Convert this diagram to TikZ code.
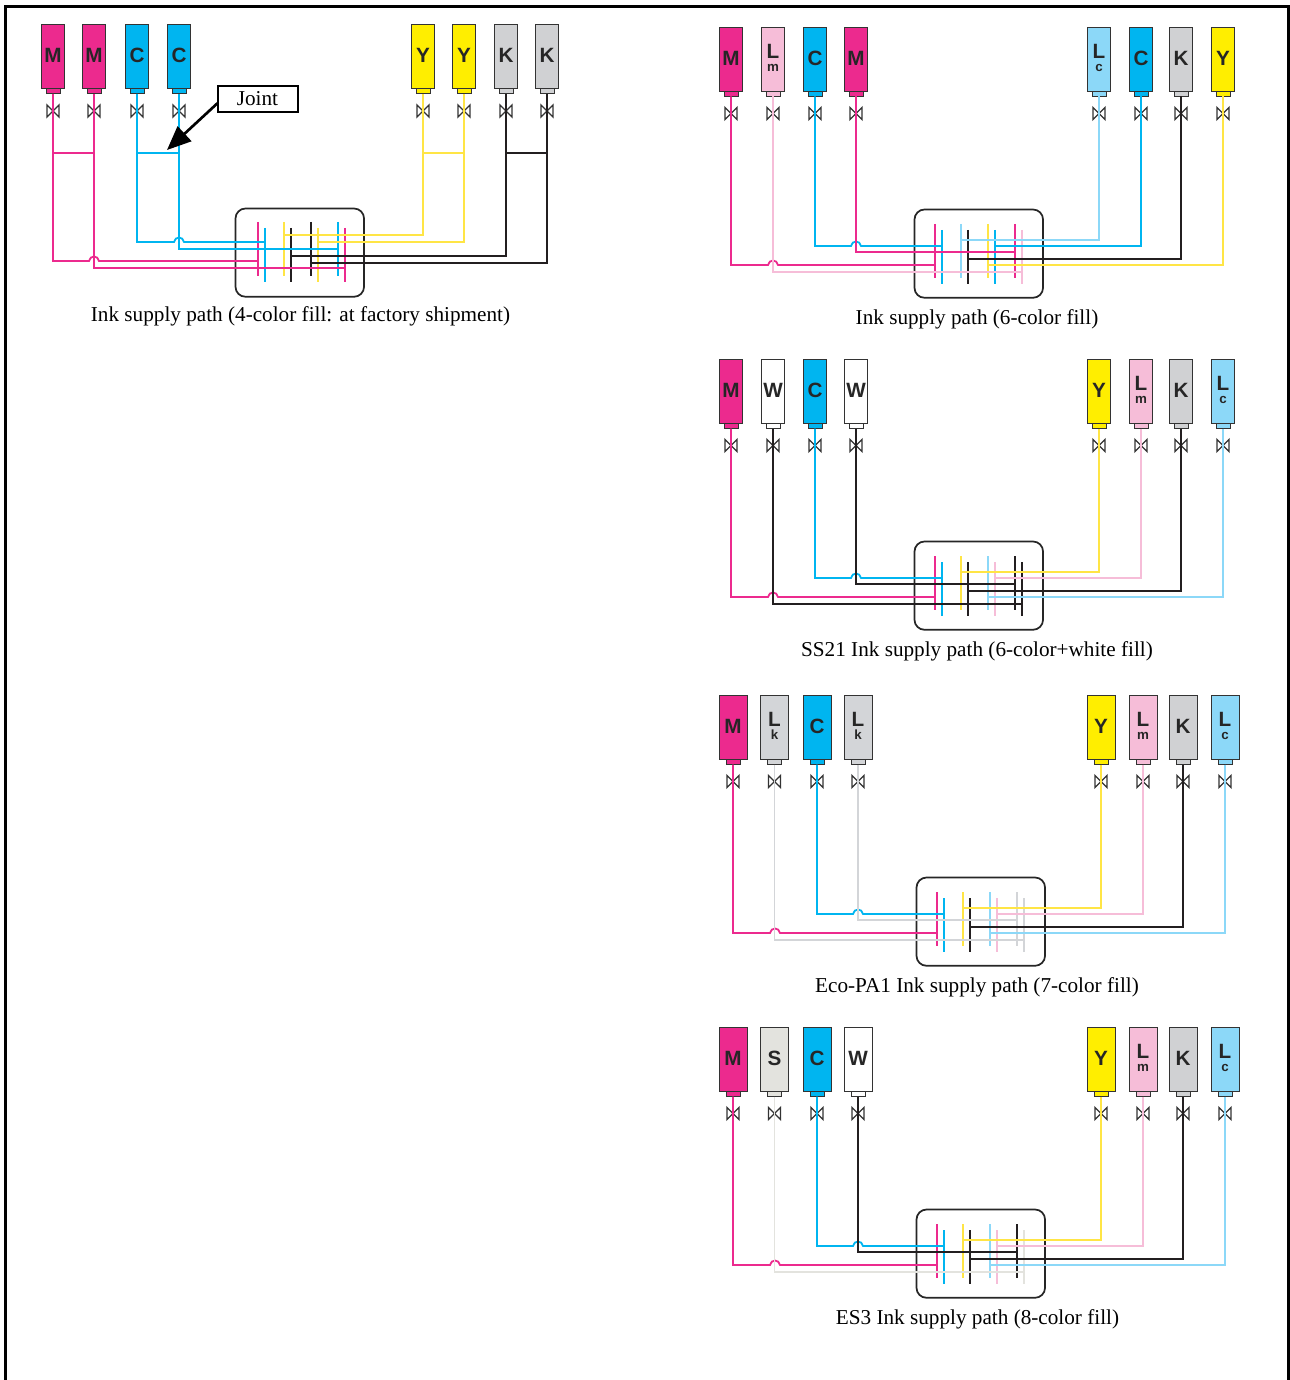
\documentclass[tikz,border=0pt]{standalone}
\usepackage{fontspec}
\setmainfont{Liberation Serif}
\setsansfont{Liberation Sans}
\usetikzlibrary{arrows.meta}
\definecolor{inkM}{HTML}{EC2A8E}
\definecolor{inkC}{HTML}{00B5F0}
\definecolor{inkY}{HTML}{FFEE00}
\definecolor{inkK}{HTML}{D0D1D3}
\definecolor{inkLm}{HTML}{F6BDD8}
\definecolor{inkLc}{HTML}{8CD8F8}
\definecolor{inkLk}{HTML}{D3D5D8}
\definecolor{inkS}{HTML}{E3E3DE}
\definecolor{pipeY}{HTML}{FFE545}
\definecolor{pipeK}{HTML}{231F20}
\tikzset{
    inktank/.style={draw=black!80,line width=0.75pt,outer sep=0pt,minimum width=17.25pt,minimum height=48pt,inner sep=0pt,anchor=north},
    inkneck/.style={draw=black!80,line width=0.75pt,outer sep=0pt,minimum width=10.5pt,minimum height=3.75pt,inner sep=0pt,anchor=north},
    inklabel/.style={font=\sffamily\bfseries\fontsize{15.5}{10}\selectfont,text=black!85,align=center,inner sep=0pt},
    inkpipe/.style={line width=1.35pt},
    inkbar/.style={line width=1.5pt},
    headbox/.style={draw=black!85,line width=1.3pt,outer sep=0pt,rounded corners=7.5pt,minimum width=96.4pt,minimum height=66.2pt,inner sep=0pt,anchor=north west},
    inkcaption/.style={font=\fontsize{15.9}{17}\selectfont,inner sep=0.75pt},
    jointbox/.style={draw=black,line width=1.5pt,outer sep=0pt,minimum width=60pt,minimum height=19pt,inner sep=0pt,font=\fontsize{15.9}{17}\selectfont},
    valve/.pic={\draw[black!80,line width=1pt] (-6,-6) -- (6,6) -- (6,-6) -- (-6,6) -- cycle;}
}
\newcommand{\inksub}[1]{{\fontsize{10}{10}\selectfont #1}}
\newcommand{\inktank}[4]{%
    \node[inktank,fill=#3] (tank#1) at (#2) {};
    \node[inkneck,fill=#3] (neck#1) at (tank#1.south) {};
    \path (tank#1.center) ++(0,-1.5) node[inklabel] (label#1) {#4};
    \path (neck#1.south) ++(0,17) pic {valve};
}
\newcommand{\inkbars}[8]{%
    \coordinate (bar1) at (935,224); \coordinate (bar2) at (942,230);
    \coordinate (bar3) at (961,224); \coordinate (bar4) at (968,230);
    \coordinate (bar5) at (988,224); \coordinate (bar6) at (995,230);
    \coordinate (bar7) at (1015,224); \coordinate (bar8) at (1022,230);
    \draw[inkbar,#1] (bar1) -- ++(0,54);
    \draw[inkbar,#3] (bar2) -- ++(0,54);
    \draw[inkbar,#5] (bar3) -- ++(0,54);
    \draw[inkbar,#7] (bar4) -- ++(0,54);
    \draw[inkbar,#8] (bar5) -- ++(0,54);
    \draw[inkbar,#6] (bar6) -- ++(0,54);
    \draw[inkbar,#4] (bar7) -- ++(0,54);
    \draw[inkbar,#2] (bar8) -- ++(0,54);
}
\newcommand{\inkpipes}[8]{%
    \inkbars{#1}{#2}{#3}{#4}{#5}{#6}{#7}{#8}
    \draw[inkpipe,#1] (neck1.south) |- (768,265) .. controls (769,259) and (777,259) .. (778,265) -- (bar1 |- 0,265);
    \draw[inkpipe,#2] (neck2.south) |- (bar8 |- 0,272);
    \draw[inkpipe,#3] (neck3.south) |- (851,246) .. controls (852,240) and (860,240) .. (861,246) -- (bar2 |- 0,246);
    \draw[inkpipe,#4] (neck4.south) |- (bar7 |- 0,252);
    \draw[inkpipe,#5] (neck5.south) |- (bar3 |- 0,240);
    \draw[inkpipe,#6] (neck6.south) |- (bar6 |- 0,246);
    \draw[inkpipe,#7] (neck7.south) |- (bar4 |- 0,259);
    \draw[inkpipe,#8] (neck8.south) |- (bar5 |- 0,265);
}
\begin{document}
\begin{tikzpicture}[x=0.75pt,y=0.75pt,yscale=-1,xscale=1]
        \useasboundingbox (0,0) rectangle (1289,1380);
        \draw[line width=2.25pt] (5.5,1380) -- (5.5,6.5) -- (1288,6.5) -- (1288,1380);

        \begin{scope}[name prefix=four-]
            \inktank{1}{53,25}{inkM}{M}
            \inktank{2}{94,25}{inkM}{M}
            \inktank{3}{137,25}{inkC}{C}
            \inktank{4}{179,25}{inkC}{C}
            \inktank{5}{423,25}{inkY}{Y}
            \inktank{6}{464,25}{inkY}{Y}
            \inktank{7}{506,25}{inkK}{K}
            \inktank{8}{547,25}{inkK}{K}
            \node[headbox] (head) at (235.5,208.5) {};
            \begin{scope}[shift={(-677.5,-2)}]
                \inkbars{inkM}{inkM}{inkC}{inkC}{pipeY}{pipeY}{pipeK}{pipeK}
            \end{scope}
            \draw[inkpipe,inkM] (neck1.south) |- (89,261) .. controls (90,255) and (98,255) .. (99,261) -- (bar1 |- 0,261);
            \draw[inkpipe,inkM] (neck2.south) |- (bar8 |- 0,268);
            \draw[inkpipe,inkC] (neck3.south) |- (174,242) .. controls (175,236) and (183,236) .. (184,242) -- (bar2 |- 0,242);
            \draw[inkpipe,inkC] (neck4.south) |- (bar7 |- 0,249);
            \draw[inkpipe,pipeY] (neck5.south) |- (bar3 |- 0,235);
            \draw[inkpipe,pipeY] (neck6.south) |- (bar6 |- 0,242);
            \draw[inkpipe,pipeK] (neck7.south) |- (bar4 |- 0,256);
            \draw[inkpipe,pipeK] (neck8.south) |- (bar5 |- 0,263);
            \draw[inkpipe,inkM] (neck1 |- 0,153) -- (neck2 |- 0,153);
            \draw[inkpipe,inkC] (neck3 |- 0,153) -- (neck4 |- 0,153);
            \draw[inkpipe,pipeY] (neck5 |- 0,153) -- (neck6 |- 0,153);
            \draw[inkpipe,pipeK] (neck7 |- 0,153) -- (neck8 |- 0,153);
            \node[jointbox] (joint) at (257.5,99) {Joint};
            \coordinate (jointtip) at (167,150);
            \draw[line width=2pt,-{Triangle[length=18pt,width=15pt]}] (joint.186) -- (jointtip);
            \node[inkcaption] (caption) at (300.5,316) {Ink supply path (4-color fill: at factory shipment)};
        \end{scope}

        \begin{scope}[name prefix=six-]
            \inktank{1}{731,27.5}{inkM}{M}
            \inktank{2}{773,27.5}{inkLm}{L\\\inksub{m}}
            \inktank{3}{815,27.5}{inkC}{C}
            \inktank{4}{856,27.5}{inkM}{M}
            \inktank{5}{1099,27.5}{inkLc}{L\\\inksub{c}}
            \inktank{6}{1141,27.5}{inkC}{C}
            \inktank{7}{1181,27.5}{inkK}{K}
            \inktank{8}{1223,27.5}{inkY}{Y}
            \node[headbox] (head) at (914.5,209.5) {};
            \inkpipes{inkM}{inkLm}{inkC}{inkM}{inkLc}{inkC}{pipeK}{pipeY}
            \node[inkcaption] (caption) at (977,319.5) {Ink supply path (6-color fill)};
        \end{scope}

        \begin{scope}[name prefix=white-,shift={(0,332)}]
            \inktank{1}{731,27.5}{inkM}{M}
            \inktank{2}{773,27.5}{white}{W}
            \inktank{3}{815,27.5}{inkC}{C}
            \inktank{4}{856,27.5}{white}{W}
            \inktank{5}{1099,27.5}{inkY}{Y}
            \inktank{6}{1141,27.5}{inkLm}{L\\\inksub{m}}
            \inktank{7}{1181,27.5}{inkK}{K}
            \inktank{8}{1223,27.5}{inkLc}{L\\\inksub{c}}
            \node[headbox] (head) at (914.5,209.5) {};
            \inkpipes{inkM}{pipeK}{inkC}{pipeK}{pipeY}{inkLm}{pipeK}{inkLc}
            \node[inkcaption] (caption) at (977,319.5) {SS21 Ink supply path (6-color+white fill)};
        \end{scope}

        \begin{scope}[name prefix=seven-,shift={(2,668)},inktank/.append style={minimum width=21pt}]
            \inktank{1}{731,27.5}{inkM}{M}
            \inktank{2}{772.5,27.5}{inkLk}{L\\\inksub{k}}
            \inktank{3}{815,27.5}{inkC}{C}
            \inktank{4}{856,27.5}{inkLk}{L\\\inksub{k}}
            \inktank{5}{1099,27.5}{inkY}{Y}
            \inktank{6}{1141,27.5}{inkLm}{L\\\inksub{m}}
            \inktank{7}{1181,27.5}{inkK}{K}
            \inktank{8}{1223,27.5}{inkLc}{L\\\inksub{c}}
            \node[headbox] (head) at (914.5,209.5) {};
            \inkpipes{inkM}{inkLk}{inkC}{inkLk}{pipeY}{inkLm}{pipeK}{inkLc}
            \node[inkcaption] (caption) at (975,319.5) {Eco-PA1 Ink supply path (7-color fill)};
        \end{scope}

        \begin{scope}[name prefix=eight-,shift={(2,1000)},inktank/.append style={minimum width=21pt}]
            \inktank{1}{731,27.5}{inkM}{M}
            \inktank{2}{772.5,27.5}{inkS}{S}
            \inktank{3}{815,27.5}{inkC}{C}
            \inktank{4}{856,27.5}{white}{W}
            \inktank{5}{1099,27.5}{inkY}{Y}
            \inktank{6}{1141,27.5}{inkLm}{L\\\inksub{m}}
            \inktank{7}{1181,27.5}{inkK}{K}
            \inktank{8}{1223,27.5}{inkLc}{L\\\inksub{c}}
            \node[headbox] (head) at (914.5,209.5) {};
            \inkpipes{inkM}{inkS}{inkC}{pipeK}{pipeY}{inkLm}{pipeK}{inkLc}
            \node[inkcaption] (caption) at (975.5,319.5) {ES3 Ink supply path (8-color fill)};
        \end{scope}
\end{tikzpicture}
\end{document}
